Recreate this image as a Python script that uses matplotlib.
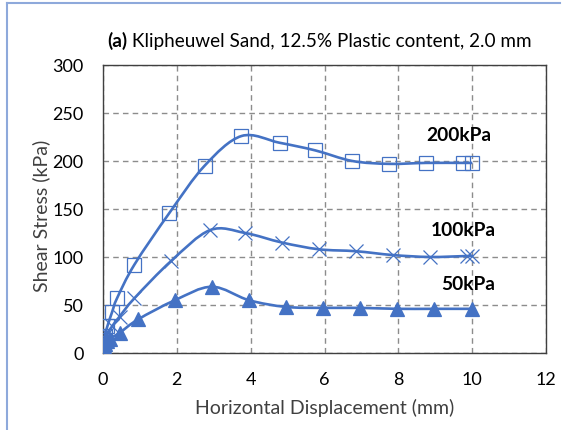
import matplotlib
matplotlib.use('Agg')
import matplotlib.pyplot as plt
from matplotlib.path import Path
from matplotlib.patches import PathPatch
from matplotlib.lines import Line2D
from matplotlib.transforms import IdentityTransform
import numpy as np

plt.rcParams['font.family'] = ['Lato', 'DejaVu Sans']

# shear stress vs horizontal displacement, one series per normal stress
x_200 = [0, 0.01, 0.03, 0.05, 0.12, 0.25, 0.38, 0.85, 1.8, 2.75, 3.75, 4.78, 5.75,
         6.75, 7.75, 8.75, 9.75, 10.0]
y_200 = [0, 4, 10, 18, 28, 43, 57, 92, 146, 195, 226, 219, 211, 200, 197, 198,
         198, 198]

x_100 = [0, 0.01, 0.03, 0.06, 0.12, 0.25, 0.45, 0.85, 1.85, 2.9, 3.85, 4.85, 5.85,
         6.85, 7.85, 8.85, 9.85, 10.0]
y_100 = [0, 3, 8, 13, 20, 28, 38, 57, 96, 128, 125, 115, 108, 106, 102, 100,
         101, 101]

x_50 = [0, 0.01, 0.03, 0.06, 0.1, 0.18, 0.45, 0.95, 1.95, 2.95, 3.95, 4.95, 5.95,
        6.95, 7.95, 8.95, 10.0]
y_50 = [0, 3, 6, 9, 12, 15, 21, 35, 55, 69, 55, 48, 47, 47, 46, 46, 46]

series_labels = ['200kPa', '100kPa', '50kPa']

BLUE = '#4472C4'


def smooth_path(xs, ys):
    """Bezier path through the points (Catmull-Rom style, like Excel's smoothed line)."""
    p = np.column_stack([xs, ys]).astype(float)
    n = len(p)
    verts = [p[0]]
    codes = [Path.MOVETO]
    for i in range(n - 1):
        p0 = p[i - 1] if i > 0 else p[i]
        p1 = p[i]
        p2 = p[i + 1]
        p3 = p[i + 2] if i + 2 < n else p[i + 1]
        c1 = p1 + (p2 - p0) / 6.0
        c2 = p2 - (p3 - p1) / 6.0
        verts += [c1, c2, p2]
        codes += [Path.CURVE4] * 3
    return Path(verts, codes)


fig = plt.figure(figsize=(5.69, 4.31), dpi=100)
ax = fig.add_axes([0.181, 0.1787, 0.7789, 0.6682])

for xs, ys, mk, fill in [(x_200, y_200, 's', 'none'),
                         (x_100, y_100, 'x', BLUE),
                         (x_50, y_50, '^', BLUE)]:
    ax.add_patch(PathPatch(smooth_path(xs, ys), facecolor='none',
                           edgecolor=BLUE, lw=1.9, zorder=3))
    ax.plot(xs, ys, linestyle='none', marker=mk, markersize=10.5,
            markerfacecolor=fill, markeredgecolor=BLUE, markeredgewidth=0.9,
            zorder=4)

ax.set_xlim(0, 12)
ax.set_ylim(0, 300)
ax.set_xticks(range(0, 13, 2))
ax.set_yticks(range(0, 301, 50))
ax.tick_params(length=0, labelsize=13, labelcolor='black')
ax.tick_params(axis='x', pad=13)
ax.tick_params(axis='y', pad=14)
ax.grid(True, linestyle=(0, (4, 3)), color='#8C8C8C', lw=1.0)
for sp in ax.spines.values():
    sp.set_color('#404040')
    sp.set_linewidth(1.0)

ax.set_xlabel('Horizontal Displacement (mm)', fontsize=14, color='#404040',
              labelpad=8)
ax.set_ylabel('Shear Stress (kPa)', fontsize=14, color='#404040')
ax.yaxis.set_label_coords(-0.12, 0.48)

# series labels placed in data coordinates
for label, (lx, ly) in zip(series_labels, [(9.62, 228), (9.76, 129), (9.9, 72)]):
    ax.text(lx, ly, label, fontsize=13.8, fontweight='bold', ha='center',
            va='center', color='black')

# title: bold "(a)" followed by the regular text on the same baseline
title_a = fig.text(107 / 569, 1 - 41 / 431, '(a)', fontsize=13.6,
                   fontweight='bold', ha='left', va='center')
title_b = fig.text(0, 0, ' Klipheuwel Sand, 12.5% Plastic content, 2.0 mm',
                   fontsize=13.6, ha='left', va='bottom')
fig.canvas.draw()
bb = title_a.get_window_extent()
title_b.set_transform(IdentityTransform())
title_b.set_position((bb.x1, bb.y0))

# chart area border (top and left edges visible)
border = '#8EA9DB'
fig.add_artist(Line2D([7 / 569, 7 / 569], [0, 1 - 4 / 431],
                      transform=fig.transFigure, color=border, lw=1.5))
fig.add_artist(Line2D([7 / 569, 560 / 569], [1 - 4 / 431, 1 - 4 / 431],
                      transform=fig.transFigure, color=border, lw=1.5))

fig.savefig('out.png', dpi=100)
